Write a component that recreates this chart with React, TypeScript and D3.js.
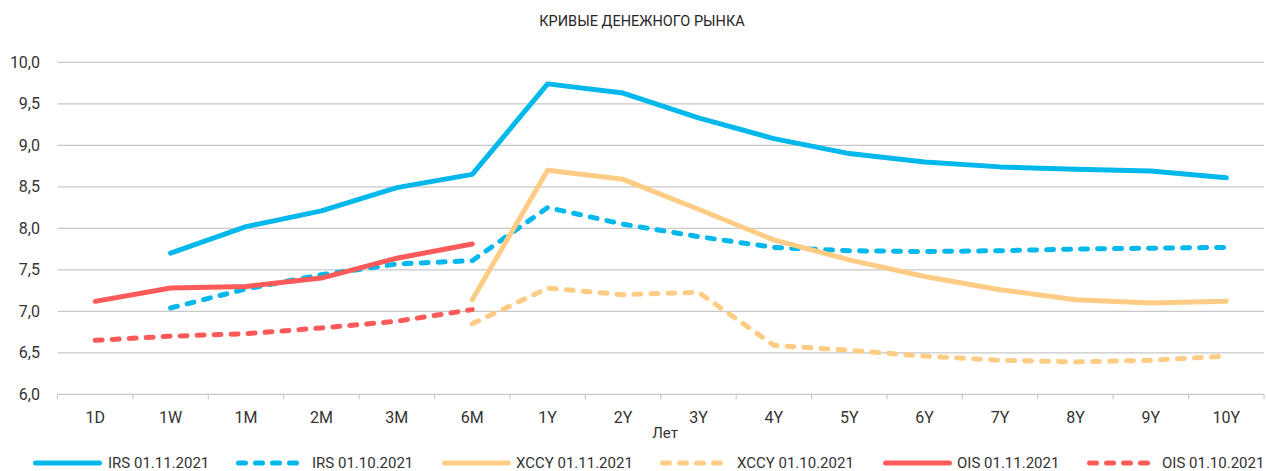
import React from "react";
import * as d3 from "d3";

const categories = ["1D", "1W", "1M", "2M", "3M", "6M", "1Y", "2Y", "3Y", "4Y", "5Y", "6Y", "7Y", "8Y", "9Y", "10Y"];
const yTicks = [6.0, 6.5, 7.0, 7.5, 8.0, 8.5, 9.0, 9.5, 10.0];

const irsNov: (number | null)[] = [null, 7.70, 8.02, 8.21, 8.49, 8.65, 9.74, 9.63, 9.33, 9.08, 8.90, 8.80, 8.74, 8.71, 8.69, 8.61];
const irsOct: (number | null)[] = [null, 7.04, 7.27, 7.44, 7.57, 7.61, 8.25, 8.05, 7.90, 7.77, 7.73, 7.72, 7.73, 7.75, 7.76, 7.77];
const xccyNov: (number | null)[] = [null, null, null, null, null, 7.14, 8.70, 8.59, 8.23, 7.86, 7.62, 7.42, 7.26, 7.14, 7.10, 7.12];
const xccyOct: (number | null)[] = [null, null, null, null, null, 6.85, 7.28, 7.20, 7.23, 6.59, 6.53, 6.46, 6.41, 6.39, 6.41, 6.46];
const oisNov: (number | null)[] = [7.12, 7.28, 7.30, 7.40, 7.64, 7.81, null, null, null, null, null, null, null, null, null, null];
const oisOct: (number | null)[] = [6.65, 6.70, 6.73, 6.80, 6.88, 7.02, null, null, null, null, null, null, null, null, null, null];

const BLUE = "#00B8EC";
const ORANGE = "#FFCC85";
const RED = "#FF5A5A";

const series = [
  { name: "IRS 01.11.2021", values: irsNov, color: BLUE, dashed: false },
  { name: "IRS 01.10.2021", values: irsOct, color: BLUE, dashed: true },
  { name: "XCCY 01.11.2021", values: xccyNov, color: ORANGE, dashed: false },
  { name: "XCCY 01.10.2021", values: xccyOct, color: ORANGE, dashed: true },
  { name: "OIS 01.11.2021", values: oisNov, color: RED, dashed: false },
  { name: "OIS 01.10.2021", values: oisOct, color: RED, dashed: true },
];

const W = 1266;
const H = 471;
const FONT = "'Roboto', 'Noto Sans', sans-serif";
const DASH = "7,10";

export default function App() {
  const left = 57.5;
  const right = 1264;
  const top = 62.3;
  const bottom = 394.3;

  const x = d3.scaleBand<string>().domain(categories).range([left, right]).padding(0);
  const y = d3.scaleLinear().domain([6, 10]).range([bottom, top]);
  const cx = (i: number) => (x(categories[i]) as number) + x.bandwidth() / 2;

  const line = d3
    .line<number | null>()
    .defined((d) => d !== null)
    .x((_, i) => cx(i))
    .y((d) => y(d as number));

  const legendItems = [
    { lx: 35.5, tx: 108 },
    { lx: 238.5, tx: 312 },
    { lx: 444.5, tx: 516 },
    { lx: 662.5, tx: 737 },
    { lx: 885.5, tx: 957 },
    { lx: 1089.5, tx: 1162 },
  ];
  const LY = 463;

  return (
    <svg width={W} height={H} style={{ position: "absolute", left: 0, top: 0, background: "#fff" }}>
      <text x={642} y={26} textAnchor="middle" fontFamily={FONT} fontSize={14.5} fill="#262626">
        КРИВЫЕ ДЕНЕЖНОГО РЫНКА
      </text>
      {yTicks.map((t) => (
        <g key={t}>
          <line x1={left} x2={right} y1={y(t)} y2={y(t)} stroke="#C8C8C8" strokeWidth={1.2} />
          <text x={40} y={y(t)} dy="0.35em" textAnchor="end" fontFamily={FONT} fontSize={16} fill="#333">
            {t.toFixed(1).replace(".", ",")}
          </text>
        </g>
      ))}
      {d3.range(categories.length + 1).map((i) => {
        const xx = i < categories.length ? (x(categories[i]) as number) : right;
        return <line key={i} x1={xx} x2={xx} y1={bottom} y2={bottom + 5} stroke="#C8C8C8" strokeWidth={1.2} />;
      })}
      {categories.map((c, i) => (
        <text key={c} x={cx(i)} y={423} textAnchor="middle" fontFamily={FONT} fontSize={16} fill="#333">
          {c}
        </text>
      ))}
      <text x={665} y={438} textAnchor="middle" fontFamily={FONT} fontSize={15} fill="#333">
        Лет
      </text>
      {series.map((s) => (
        <path
          key={s.name}
          d={line(s.values) || ""}
          fill="none"
          stroke={s.color}
          strokeWidth={5}
          strokeLinecap="round"
          strokeLinejoin="round"
          strokeDasharray={s.dashed ? DASH : undefined}
        />
      ))}
      {series.map((s, i) => (
        <g key={"lg" + s.name}>
          <line
            x1={legendItems[i].lx}
            x2={legendItems[i].lx + 64}
            y1={LY}
            y2={LY}
            stroke={s.color}
            strokeWidth={5}
            strokeLinecap="round"
            strokeDasharray={s.dashed ? DASH : undefined}
          />
          <text x={legendItems[i].tx} y={LY} dy="0.35em" fontFamily={FONT} fontSize={15} fill="#333">
            {s.name}
          </text>
        </g>
      ))}
    </svg>
  );
}
